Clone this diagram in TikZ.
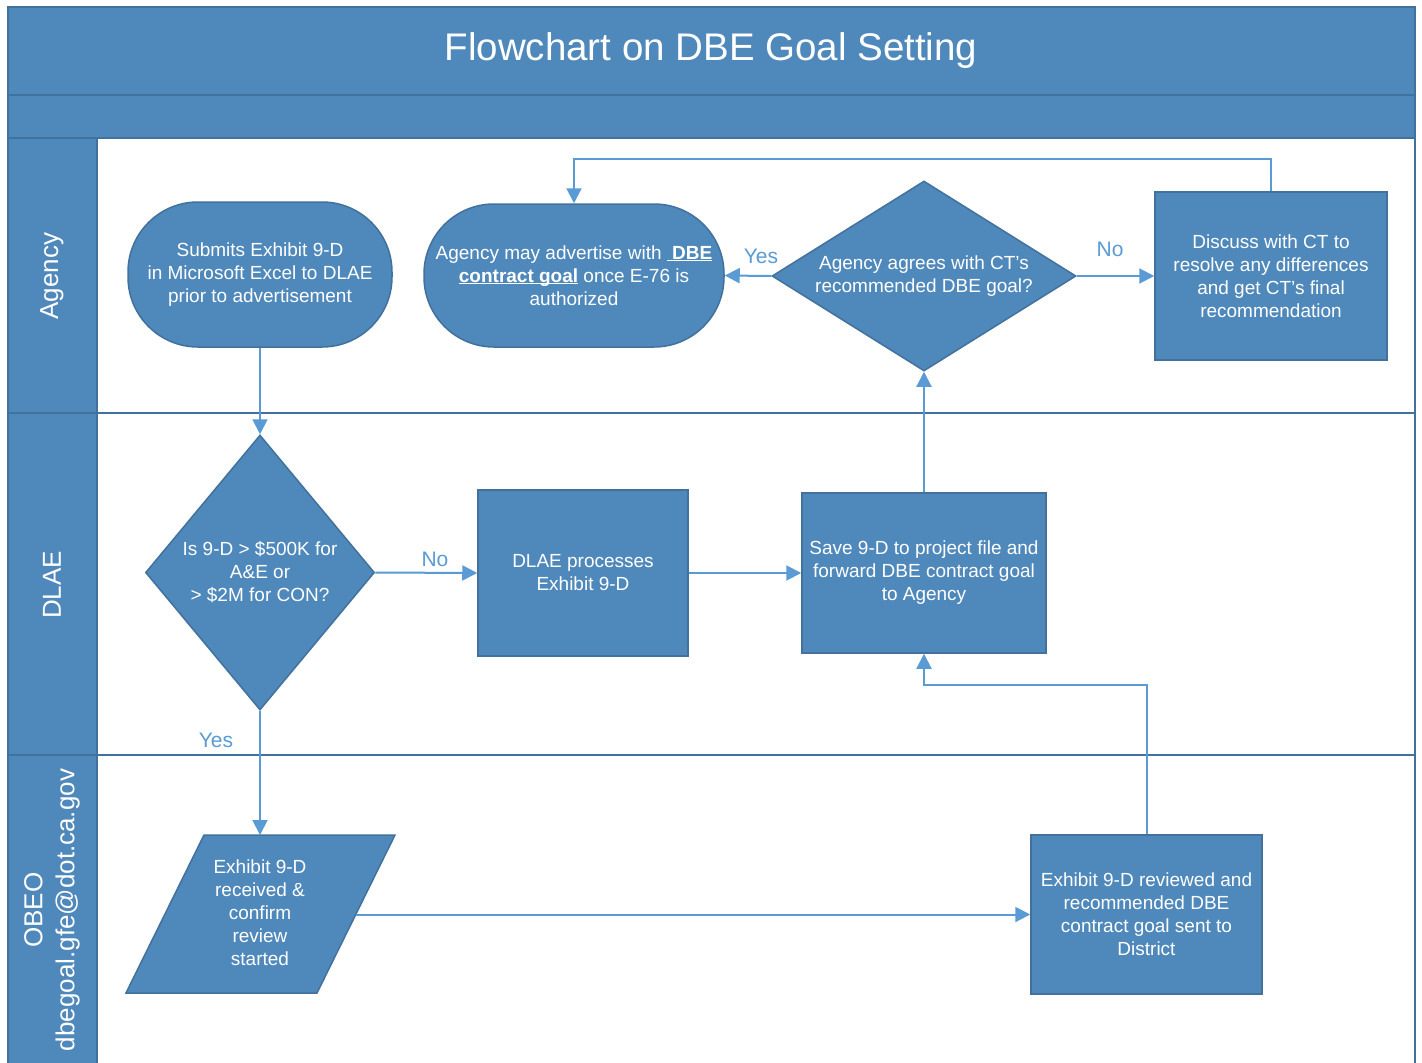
\documentclass[tikz,border=0pt]{standalone}
\usepackage{fontspec}
\setmainfont{Liberation Sans}
\usetikzlibrary{arrows.meta,shapes.geometric}
\definecolor{lanefill}{RGB}{79,136,187}
\definecolor{laneline}{RGB}{65,113,156}
\definecolor{arrowc}{RGB}{91,155,213}
\newcommand{\myul}[1]{\underline{\smash{#1}}}
\begin{document}
\begin{tikzpicture}[x=1pt,y=-1pt,
  box/.style={draw=laneline, line width=1.5pt, fill=lanefill, text=white, align=center,
    font=\fontsize{19}{23}\selectfont, inner sep=0pt},
  stadium/.style={box, rounded corners=70pt},
  decision/.style={box, diamond},
  txt/.style={text=white, align=center, font=\fontsize{19}{23}\selectfont, inner sep=0pt},
  conn/.style={draw=arrowc, line width=2pt, -{Triangle[length=15pt,width=15pt]}},
  lbl/.style={text=arrowc, font=\fontsize{21}{24}\selectfont, inner sep=0pt},
  lanelbl/.style={text=white, align=center, font=\fontsize{26}{32}\selectfont, inner sep=0pt, rotate=90},
  band/.style={fill=lanefill, draw=laneline, line width=1.5pt}]
\useasboundingbox (0,0) rectangle (1422,1063);
\fill[white] (0,0) rectangle (1422,1063);
% swimlane frame
\path[band] (8,7) rectangle (1415,95);
\path[band] (8,95) rectangle (1415,138);
\path[band] (8,138) rectangle (97,1075);
\draw[laneline, line width=1.5pt] (8,413) -- (1415,413);
\draw[laneline, line width=1.5pt] (8,755) -- (1415,755);
\draw[laneline, line width=1.5pt] (1415,138) -- (1415,1075);
\node[text=white, font=\fontsize{38.5}{44}\selectfont, inner sep=0pt] (title) at (711,51) {Flowchart on DBE Goal Setting};
\node[lanelbl] (lagency) at (52,276) {Agency};
\node[lanelbl] (ldlae) at (52,585) {DLAE};
\node[lanelbl] (lobeo) at (52,910) {OBEO\\dbegoal.gfe@dot.ca.gov};
% nodes
\node[stadium, minimum width=264, minimum height=145] (submit) at (260,274.5)
  {Submits Exhibit 9-D\\in Microsoft Excel to DLAE\\prior to advertisement};
\node[stadium, minimum width=300, minimum height=143] (adv) at (574,275.5)
  {Agency may advertise with \myul{\textbf{\ DBE}}\\\myul{\textbf{contract goal}} once E-76 is\\authorized};
\node[decision, aspect=1.6, minimum width=304, minimum height=190] (agree) at (924,276)
  {Agency agrees with CT’s\\recommended DBE goal?};
\node[box, minimum width=232, minimum height=168] (discuss) at (1271,276)
  {Discuss with CT to\\resolve any differences\\and get CT’s final\\recommendation};
\node[decision, aspect=0.83, minimum width=229, minimum height=275] (size) at (260,572.5)
  {Is 9-D > \$500K for\\A\&E or\\> \$2M for CON?};
\node[box, minimum width=210, minimum height=166] (proc) at (583,573)
  {DLAE processes\\Exhibit 9-D};
\node[box, minimum width=244, minimum height=160] (save) at (924,573)
  {Save 9-D to project file and\\forward DBE contract goal\\to Agency};
\path[box] (204,835) -- (395,835) -- (317,993) -- (126,993) -- cycle;
\node[txt] (recv) at (260,913) {Exhibit 9-D\\received \&\\confirm\\review\\started};
\coordinate (recvtop) at (260,835);
\coordinate (recvright) at (355.8,914.5);
\node[box, minimum width=231, minimum height=159] (rev) at (1146.5,914.5)
  {Exhibit 9-D reviewed and\\recommended DBE\\contract goal sent to\\District};
% connectors
\draw[conn] (submit.south) -- (size.north);
\draw[conn] (size.east) -- (proc.west);
\node[lbl] (lno1) at (435,559) {No};
\draw[conn] (proc.east) -- (save.west);
\draw[conn] (save.north) -- (agree.south);
\draw[conn] (agree.west) -- (adv.east);
\node[lbl] (lyes1) at (761,256) {Yes};
\draw[conn] (agree.east) -- (discuss.west);
\node[lbl] (lno2) at (1110,249) {No};
\draw[conn] (discuss.north) -- ++(0,-32) -| (adv.north);
\draw[conn] (size.south) -- (recvtop);
\node[lbl] (lyes2) at (216,740) {Yes};
\draw[conn] (recvright) -- (rev.west);
\draw[conn] (rev.north) -- ++(0,-149) -| (save.south);
\end{tikzpicture}
\end{document}
